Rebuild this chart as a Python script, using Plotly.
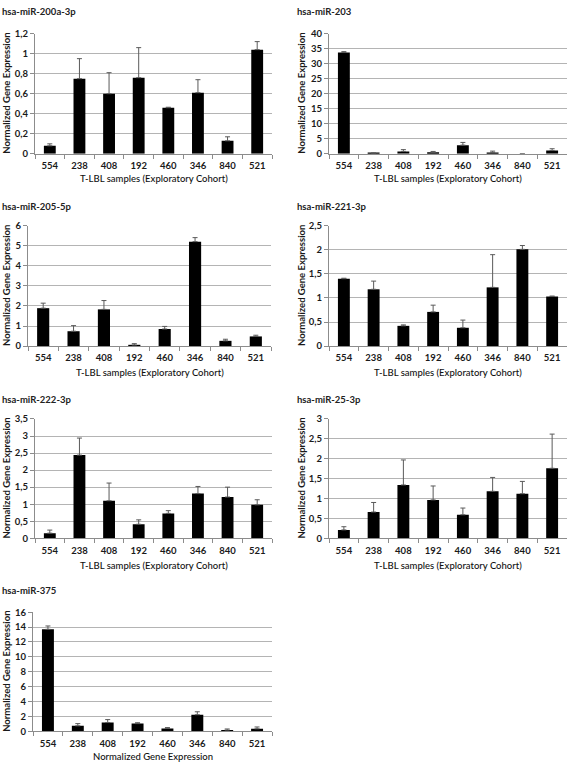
import plotly.graph_objects as go

samples = ["554", "238", "408", "192", "460", "346", "840", "521"]

titles = ["hsa-miR-200a-3p", "hsa-miR-203", "hsa-miR-205-5p", "hsa-miR-221-3p",
          "hsa-miR-222-3p", "hsa-miR-25-3p", "hsa-miR-375"]

mir200a_vals = [0.08, 0.75, 0.60, 0.76, 0.46, 0.61, 0.13, 1.04]
mir200a_err = [0.02, 0.20, 0.21, 0.30, 0.005, 0.13, 0.04, 0.08]

mir203_vals = [33.7, 0.2, 0.8, 0.5, 2.9, 0.4, 0.0, 1.1]
mir203_err = [0.3, 0.1, 0.6, 0.3, 0.9, 0.5, 0.0, 0.6]

mir205_vals = [1.89, 0.74, 1.83, 0.05, 0.85, 5.21, 0.26, 0.48]
mir205_err = [0.25, 0.28, 0.44, 0.07, 0.13, 0.20, 0.08, 0.06]

mir221_vals = [1.40, 1.18, 0.42, 0.71, 0.38, 1.22, 2.01, 1.03]
mir221_err = [0.01, 0.17, 0.02, 0.14, 0.16, 0.68, 0.08, 0.01]

mir222_vals = [0.15, 2.44, 1.10, 0.41, 0.73, 1.31, 1.21, 0.98]
mir222_err = [0.09, 0.50, 0.52, 0.13, 0.08, 0.21, 0.29, 0.15]

mir25_vals = [0.21, 0.66, 1.34, 0.965, 0.59, 1.18, 1.12, 1.76]
mir25_err = [0.08, 0.24, 0.63, 0.35, 0.17, 0.35, 0.31, 0.86]

mir375_vals = [13.7, 0.75, 1.19, 1.05, 0.40, 2.24, 0.18, 0.35]
mir375_err = [0.45, 0.30, 0.40, 0.12, 0.12, 0.40, 0.15, 0.25]

y_max = [1.2, 40, 6, 2.5, 3.5, 3, 16]
y_dtick = [0.2, 5, 1, 0.5, 0.5, 0.5, 2]
x_titles = ["T-LBL samples (Exploratory Cohort)"] * 6 + ["Normalized Gene Expression"]
y_title = "Normalized Gene Expression"

values = [mir200a_vals, mir203_vals, mir205_vals, mir221_vals, mir222_vals, mir25_vals, mir375_vals]
errors = [mir200a_err, mir203_err, mir205_err, mir221_err, mir222_err, mir25_err, mir375_err]

W, H = 567, 767
# pixel boxes (left, right, top, bottom) for each plot area
boxes = [
    (35, 272, 28, 150),
    (329, 567, 28, 150),
    (28, 271, 223, 345),
    (329, 567, 223, 345),
    (35, 272, 419, 540),
    (329, 567, 419, 540),
    (33, 272, 615, 736),
]
title_pos = [(0, 6), (295, 6), (0, 203), (295, 203), (0, 399), (295, 399), (0, 593)]
ytitle_x = [7, 302, 7, 302, 7, 302, 7]
xtitle_y = [175, 175, 372, 372, 568, 568, 761]

FONT = "Lato, 'Open Sans', sans-serif"


def fmt(v):
    return ("%g" % v).replace(".", ",")


fig = go.Figure()
annotations = []
layout = {}
for i in range(7):
    n = "" if i == 0 else str(i + 1)
    xa, ya = "x" + n, "y" + n
    l, r, t, b = boxes[i]
    fig.add_trace(go.Bar(
        x=samples, y=values[i], xaxis=xa, yaxis=ya,
        marker=dict(color="#000000", line=dict(width=0)),
        error_y=dict(type="data", array=errors[i], arrayminus=[0] * 8, symmetric=False,
                     color="#5a5a5a", thickness=1, width=2.5),
        showlegend=False,
    ))
    tv = []
    v = 0.0
    while v <= y_max[i] + 1e-9:
        tv.append(round(v, 6))
        v += y_dtick[i]
    layout["xaxis" + n] = dict(
        domain=[l / W, r / W], anchor=ya,
        showline=True, linecolor="#8c8c8c", linewidth=1,
        ticks="outside", ticklen=4, tickcolor="#8c8c8c", tickson="boundaries",
        ticklabelstandoff=3,
        showgrid=False, zeroline=False, fixedrange=True,
        tickfont=dict(family=FONT, size=9.5, color="#1a1a1a", weight="bold"),
    )
    layout["yaxis" + n] = dict(
        domain=[1 - b / H, 1 - t / H], anchor=xa,
        range=[0, y_max[i]], tickvals=tv, ticktext=[fmt(x) for x in tv],
        showline=True, linecolor="#8c8c8c", linewidth=1,
        ticks="outside", ticklen=4, tickcolor="#8c8c8c",
        showgrid=True, gridcolor="#b4b4b4", gridwidth=1, zeroline=False,
        fixedrange=True,
        tickfont=dict(family=FONT, size=9.5, color="#1a1a1a", weight="bold"),
    )
    tx, ty = title_pos[i]
    annotations.append(dict(text="<b>" + titles[i] + "</b>", x=tx / W, y=1 - ty / H,
                            xref="paper", yref="paper", xanchor="left", yanchor="middle",
                            showarrow=False, font=dict(family=FONT, size=9.5, color="#222")))
    annotations.append(dict(text=x_titles[i], x=(l + min(r, 569)) / 2 / W, y=1 - xtitle_y[i] / H,
                            xref="paper", yref="paper", xanchor="center", yanchor="middle",
                            showarrow=False,
                            font=dict(family=FONT, size=9.5, color="#111111", weight=500)))
    annotations.append(dict(text="<b>" + y_title + "</b>", x=ytitle_x[i] / W, y=1 - (t + b) / 2 / H,
                            xref="paper", yref="paper", xanchor="center", yanchor="middle",
                            textangle=-90, showarrow=False,
                            font=dict(family=FONT, size=9.5, color="#1a1a1a")))

fig.update_layout(
    width=W, height=H, margin=dict(l=0, r=0, t=0, b=0),
    paper_bgcolor="white", plot_bgcolor="white",
    bargap=0.6, annotations=annotations, **layout,
)
fig.write_html("out.html", config={"displayModeBar": False},
               post_script="document.body.style.margin='0';document.body.style.overflow='hidden';")
